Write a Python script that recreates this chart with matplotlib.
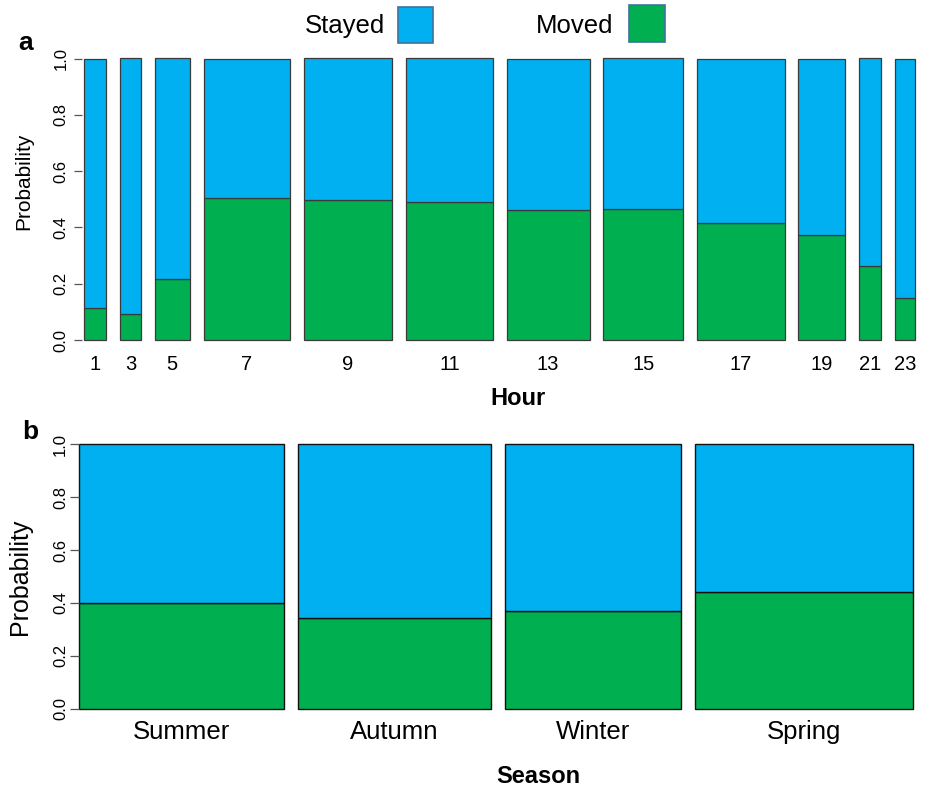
import matplotlib
matplotlib.use("Agg")
import matplotlib.pyplot as plt
from matplotlib.patches import Rectangle
import numpy as np

plt.rcParams['font.family'] = ['Liberation Sans', 'DejaVu Sans']

# Hour of day: share of observations (bar width) and probability of moving
hours = ['1', '3', '5', '7', '9', '11', '13', '15', '17', '19', '21', '23']
hour_share = [0.0324, 0.0310, 0.0516, 0.1268, 0.1306, 0.1278,
              0.1223, 0.1173, 0.1293, 0.0688, 0.0330, 0.0290]
hour_moved = [0.113, 0.092, 0.217, 0.503, 0.498, 0.489,
              0.461, 0.464, 0.416, 0.374, 0.263, 0.149]

# Season: share of observations and probability of moving
seasons = ['Summer', 'Autumn', 'Winter', 'Spring']
season_share = [0.2582, 0.2440, 0.2220, 0.2758]
season_moved = [0.399, 0.342, 0.370, 0.441]

y_ticks = [0.0, 0.2, 0.4, 0.6, 0.8, 1.0]

BLUE = '#00B0F0'
GREEN = '#00B050'

W, H = 930, 787
fig = plt.figure(figsize=(W / 100, H / 100), dpi=100)


def fx(x):
    return x / W


def fy(y):
    return 1 - y / H


def add_axes_px(left, top, right, bottom):
    return fig.add_axes([fx(left), fy(bottom), fx(right) - fx(left), fy(top) - fy(bottom)])


def spineplot(ax, labels, share, moved, gap, edge, lw):
    share = np.asarray(share)
    moved = np.asarray(moved)
    lefts = np.concatenate([[0], np.cumsum(share[:-1] + gap)])
    ax.bar(lefts, moved, width=share, align='edge', color=GREEN,
           edgecolor=edge, linewidth=lw, clip_on=False)
    ax.bar(lefts, 1 - moved, width=share, bottom=moved, align='edge',
           color=BLUE, edgecolor=edge, linewidth=lw, clip_on=False)
    ax.set_xlim(0, lefts[-1] + share[-1])
    ax.set_ylim(0, 1)
    ax.set_xticks(lefts + share / 2)
    ax.set_xticklabels(labels)
    ax.set_yticks(y_ticks)
    ax.set_yticklabels([f'{v:.1f}' for v in y_ticks])
    for s in ['top', 'right', 'bottom']:
        ax.spines[s].set_visible(False)
    ax.spines['left'].set_edgecolor('none')
    ax.patch.set_visible(False)


# Panel a: hour of day
ax1 = add_axes_px(84, 58.5, 915, 340)
spineplot(ax1, hours, hour_share, hour_moved, 0.0205, '#3a3a3a', 0.9)
ax1.spines['left'].set_position(('outward', 1.7))
ax1.tick_params(axis='y', length=6.0, width=0.9, color='#555555',
                labelsize=12, pad=3.5, labelrotation=90)
for t in ax1.get_yticklabels():
    t.set_va('center')
ax1.tick_params(axis='x', length=0, labelsize=14.5, pad=11.0)

# Panel b: season
ax2 = add_axes_px(79.3, 444.3, 913.3, 708.7)
spineplot(ax2, seasons, season_share, season_moved, 0.0174, '#111111', 1.0)
ax2.spines['left'].set_position(('outward', 0.5))
ax2.tick_params(axis='y', length=6.5, width=0.9, color='#555555',
                labelsize=12, pad=1.1, labelrotation=90)
for t in ax2.get_yticklabels():
    t.set_va('center')
ax2.tick_params(axis='x', length=0, labelsize=18.5, pad=8.0)

# Axis titles and panel letters
fig.text(fx(24), fy(181), 'Probability', rotation=90, ha='center', va='center', fontsize=15)
fig.text(fx(20), fy(577), 'Probability', rotation=90, ha='center', va='center', fontsize=18)
fig.text(fx(518), fy(405), 'Hour', ha='center', va='baseline', fontsize=17, fontweight='bold')
fig.text(fx(538), fy(783), 'Season', ha='center', va='baseline', fontsize=17, fontweight='bold')
fig.text(fx(18), fy(50), 'a', ha='left', va='baseline', fontsize=19, fontweight='bold')
fig.text(fx(22), fy(439), 'b', ha='left', va='baseline', fontsize=19, fontweight='bold')

# Legend at the top
fig.text(fx(345), fy(33), 'Stayed', ha='center', va='baseline', fontsize=18.5)
fig.text(fx(575), fy(33), 'Moved', ha='center', va='baseline', fontsize=18.5)
for (x0, y0, x1, y1), col in [((398.3, 7.3, 432.7, 42.7), BLUE),
                              ((629.3, 5.0, 665.0, 41.7), GREEN)]:
    fig.patches.append(Rectangle((fx(x0), fy(y1)), fx(x1) - fx(x0), fy(y0) - fy(y1),
                                 transform=fig.transFigure, facecolor=col,
                                 edgecolor='#41719C', linewidth=1.2))

fig.savefig('out.png', dpi=100)
